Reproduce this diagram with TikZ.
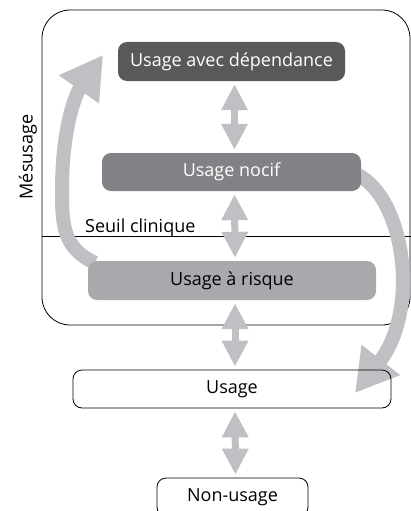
\documentclass[tikz,border=0pt]{standalone}
\usepackage{fontspec}
\setmainfont{Open Sans}
\usetikzlibrary{arrows.meta,backgrounds}

\definecolor{depgray}{RGB}{88,89,91}
\definecolor{nocifgray}{RGB}{128,130,133}
\definecolor{risquegray}{RGB}{167,169,172}
\definecolor{arrowgray}{RGB}{190,192,195}

\begin{document}
\begin{tikzpicture}[x=1pt,y=-1pt,
  stage/.style={rounded corners=9pt,minimum height=38pt,inner sep=0pt,font=\fontsize{18}{20}\selectfont},
  swap/.style={{Triangle[width=25pt,length=26pt]}-{Triangle[width=25pt,length=26pt]},line width=7pt,arrowgray,shorten <=3pt,shorten >=3pt},
  loop/.style={-{Triangle[width=46pt,length=42pt]},line width=14pt,arrowgray}]

\useasboundingbox (0,0) rectangle (411,511);
\clip (0,0) rectangle (411,511);

\node[stage,fill=depgray,text=white,minimum width=227pt,minimum height=39pt] (dep) at (231.5,61.5) {Usage avec dépendance};
\node[stage,fill=nocifgray,text=white,minimum width=259pt] (nocif) at (231.5,172) {Usage nocif};
\node[stage,fill=risquegray,minimum width=288pt,minimum height=39pt] (risque) at (232,280.5) {Usage à risque};
\node[stage,draw,line width=0.8pt,minimum width=318pt] (usage) at (232,389) {Usage};
\node[stage,draw,line width=0.8pt,minimum width=151pt] (non) at (232.5,497) {Non-usage};

\node[rotate=90,font=\fontsize{18}{20}\selectfont] (mes) at (28,157) {Mésusage};
\node[anchor=base west,inner sep=0pt,font=\fontsize{18}{20}\selectfont] (seuil) at (85,232) {Seuil clinique};

\coordinate (uptip) at (103,55);
\coordinate (downtip) at (355,393);

\begin{scope}[on background layer]
\draw[line width=0.8pt,rounded corners=28pt] (42,10) rectangle (410,325);
\draw[line width=0.8pt] (42,236) -- (411,236);
\draw[loop] ([xshift=7pt,yshift=-2pt]risque.north west) .. controls (63,248) and (62,225) .. (62,190)
  .. controls (62,130) and (75,95) .. (uptip);
\draw[loop] ([xshift=-3pt,yshift=-3pt]nocif.east) .. controls (405,200) and (420,310) .. (downtip);
\end{scope}

\draw[swap] ([xshift=3pt]dep.south) -- ([xshift=3pt]nocif.north);
\draw[swap] ([xshift=3pt]nocif.south) -- ([xshift=3pt]risque.north);
\draw[swap] ([xshift=3pt]risque.south) -- ([xshift=3pt]usage.north);
\draw[swap] ([xshift=3pt]usage.south) -- ([xshift=3pt]non.north);

\end{tikzpicture}
\end{document}
